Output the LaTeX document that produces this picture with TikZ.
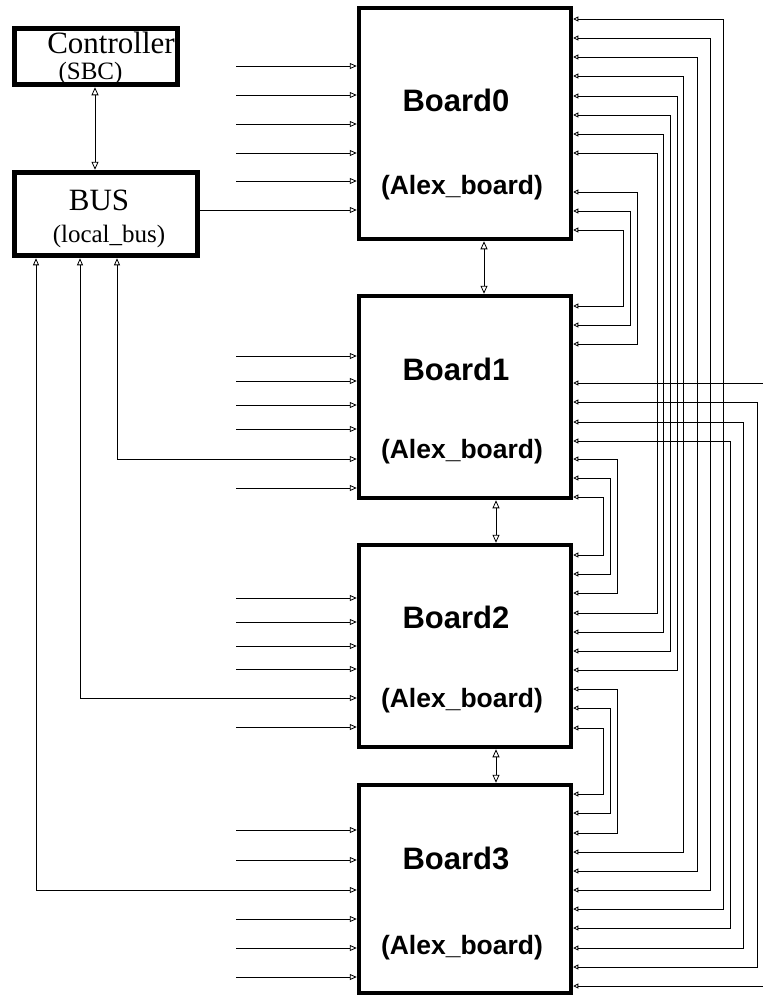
\documentclass[tikz,border=0pt]{standalone}
\usepackage{fontspec}
\setmainfont{Liberation Serif}
\newfontfamily\boardfont{Liberation Sans}
\usetikzlibrary{arrows.meta,positioning,calc}

\begin{document}
\begin{tikzpicture}[
  x=1pt, y=-1pt,
  box/.style={draw, line width=5pt, inner sep=0pt},
  board/.style={draw, line width=4.5pt, inner sep=0pt, minimum width=212pt},
  ctitle/.style={anchor=base, inner sep=0pt, font=\fontsize{31}{31}\selectfont},
  csub/.style={anchor=base, inner sep=0pt, font=\fontsize{25}{25}\selectfont},
  btitle/.style={anchor=base, inner sep=0pt, font=\boardfont\bfseries\fontsize{31}{31}\selectfont},
  bsub/.style={anchor=base, inner sep=0pt, font=\boardfont\bfseries\fontsize{26.5}{26.5}\selectfont},
  feed/.style={line width=0.8pt, -{Triangle[open,length=7pt,width=6pt]}},
  busfeed/.style={line width=0.8pt,
    {Triangle[open,length=7pt,width=6pt]}-{Triangle[open,length=7pt,width=6pt]}},
  dlink/.style={line width=0.8pt,
    {Triangle[open,length=8pt,width=7pt]}-{Triangle[open,length=8pt,width=7pt]}},
  wire/.style={line width=0.8pt,
    {Triangle[open,length=5pt,width=5pt]}-{Triangle[open,length=5pt,width=5pt]}},
  rfeed/.style={line width=0.8pt, -{Triangle[open,length=5pt,width=5pt]}},
]
\useasboundingbox (0,0) rectangle (763,996);

% --- Controller and bus ---
\node[box, minimum width=163.5pt, minimum height=56.5pt] (ctrl) at (96,56.5) {};
\node[ctitle] (ctrl-name) at (111,53.5) {Controller};
\node[csub] (ctrl-type) at (90.5,79) {(SBC)};

\node[box, minimum width=183.5pt, minimum height=83.5pt] (bus) at (106,214) {};
\node[ctitle] (bus-name) at (99,210) {BUS};
\node[csub] (bus-type) at (109,242) {(local\_bus)};

\draw[dlink] (ctrl.south -| 95,0) -- (bus.north -| 95,0);

% --- Boards ---
\node[board, minimum height=231pt] (b0) at (465,123.5) {};
\node[board, minimum height=202pt] (b1) at (465,397) {};
\node[board, minimum height=202pt] (b2) at (465,646) {};
\node[board, minimum height=208pt] (b3) at (465,889) {};

\foreach \i/\ya/\yb in {0/111/194, 1/380/458, 2/628/707, 3/869/954} {
  \node[btitle] (b\i-name) at (456,\ya) {Board\i};
  \node[bsub] (b\i-type) at (462,\yb) {(Alex\_board)};
}

% board to board
\draw[dlink] (b0.south -| 484,0) -- (b1.north -| 484,0);
\draw[dlink] (b1.south -| 496,0) -- (b2.north -| 496,0);
\draw[dlink] (b2.south -| 496,0) -- (b3.north -| 496,0);

% --- Left inputs ---
\foreach \b/\ylist in {b0/{66,95,124,153,181}, b1/{356,381,405,429,488},
                       b2/{598,622,646,669,727}, b3/{830,860,919,948,977}} {
  \foreach \y in \ylist {
    \coordinate (\b-in\y) at (236,\y);
    \draw[feed] (\b-in\y) -- (\b.west |- \b-in\y);
  }
}

% bus lines
\draw[feed] (bus.east |- 0,210) -- (b0.west |- 0,210);
\draw[busfeed] (bus.south -| 117,0) |- (b1.west |- 0,459);
\draw[busfeed] (bus.south -| 80,0) |- (b2.west |- 0,698);
\draw[busfeed] (bus.south -| 36,0) |- (b3.west |- 0,890);

% --- Right side wiring ---
\foreach \src/\ya/\xv/\dst/\yb in {
  b0/19/723/b3/909, b0/38/710/b3/890, b0/57/697/b3/871, b0/76/683/b3/852,
  b0/96/677/b2/670, b0/115/670/b2/651, b0/134/663/b2/632, b0/153/657/b2/613,
  b0/192/637/b1/344, b0/211/630/b1/325, b0/230/623/b1/306,
  b1/402/757/b3/967, b1/422/743/b3/948, b1/441/730/b3/928,
  b1/459/617/b2/593, b1/478/610/b2/574, b1/497/603/b2/555,
  b2/689/617/b3/833, b2/708/610/b3/813, b2/728/603/b3/794}
  \draw[wire] (\src.east |- 0,\ya) -| (\xv,\yb) -- (\dst.east |- 0,\yb);

% off the sheet
\coordinate (ext1) at (770,383);
\coordinate (ext3) at (770,986);
\draw[rfeed] (ext1) -- (b1.east |- ext1);
\draw[rfeed] (ext3) -- (b3.east |- ext3);

\end{tikzpicture}
\end{document}
